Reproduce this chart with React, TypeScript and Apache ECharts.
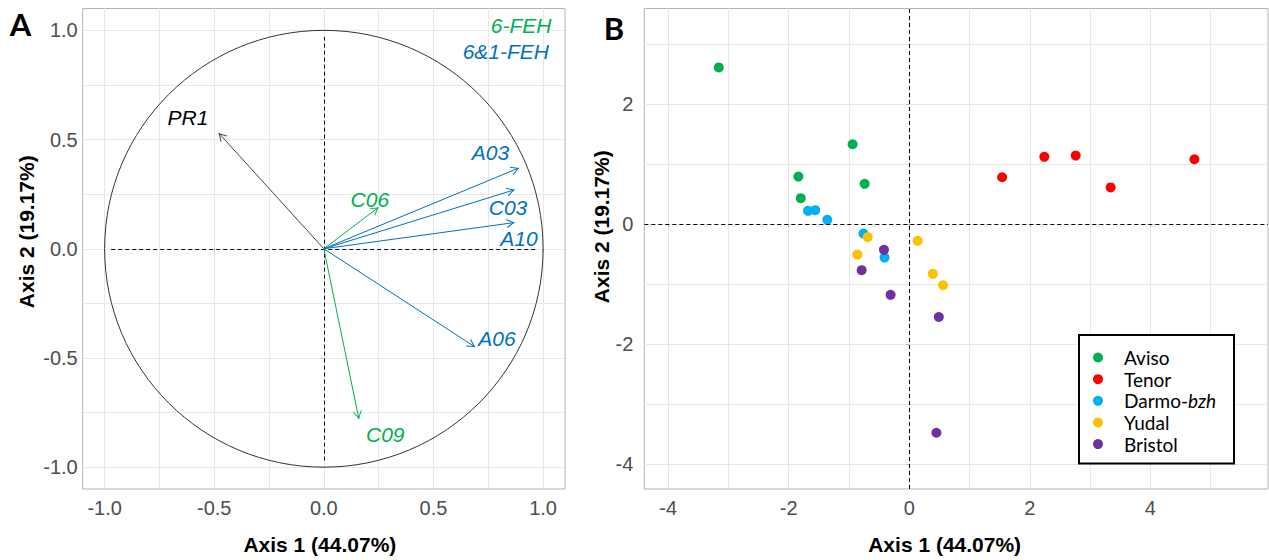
import React, { useEffect, useRef } from "react";
import * as echarts from "echarts";

// ---------- Panel A: variable correlation circle ----------
const blackArrowNames = ["PR1"];
const blackArrowX = [-0.48];
const blackArrowY = [0.53];
const blackLabelX = [-0.62];
const blackLabelY = [0.6];

const blueArrowNames = ["A03", "C03", "A10", "A06"];
const blueArrowX = [0.89, 0.87, 0.87, 0.69];
const blueArrowY = [0.37, 0.27, 0.12, -0.45];
const blueLabelX = [0.76, 0.84, 0.89, 0.79];
const blueLabelY = [0.44, 0.19, 0.045, -0.41];

const greenArrowNames = ["C06", "C09"];
const greenArrowX = [0.25, 0.16];
const greenArrowY = [0.19, -0.78];
const greenLabelX = [0.21, 0.28];
const greenLabelY = [0.225, -0.85];

const groupNames = ["6-FEH", "6&1-FEH"];
const groupLabelX = [0.9, 0.83];
const groupLabelY = [1.024, 0.905];

const circleRadius = 1;
const refSegmentEnd = 0.97;
const leftTicks = [-1, -0.5, 0, 0.5, 1];
const leftGridTicks = [-1, -0.75, -0.5, -0.25, 0, 0.25, 0.5, 0.75, 1];

// ---------- Panel B: individuals ----------
const varieties = ["Aviso", "Tenor", "Darmo-bzh", "Yudal", "Bristol"];
const avisoPts = [[-3.16, 2.61], [-0.94, 1.33], [-1.84, 0.79], [-0.74, 0.67], [-1.8, 0.43]];
const tenorPts = [[1.54, 0.78], [2.24, 1.12], [2.76, 1.14], [3.34, 0.61], [4.73, 1.08]];
const darmoPts = [[-1.68, 0.22], [-1.56, 0.23], [-1.36, 0.07], [-0.76, -0.16], [-0.41, -0.56]];
const yudalPts = [[-0.69, -0.22], [0.14, -0.28], [-0.86, -0.51], [0.39, -0.83], [0.56, -1.02]];
const bristolPts = [[-0.42, -0.43], [-0.79, -0.77], [-0.31, -1.18], [0.49, -1.55], [0.45, -3.48]];
const rightXTicks = [-4, -2, 0, 2, 4];
const rightXGridTicks = [-4, -3, -2, -1, 0, 1, 2, 3, 4, 5];
const rightYTicks = [-4, -2, 0, 2];
const rightYGridTicks = [-4, -3, -2, -1, 0, 1, 2, 3];

const GREEN = "#00B050";
const BLUE = "#0070C0";
const varietyColors = ["#00B050", "#FF0000", "#00B0F0", "#FFC000", "#7030A0"];

const TICK_FONT = "Liberation Sans";
const CHEVRON =
  "path://M0,0L0.01,0L0,0.01ZM20,20L19.99,20L20,19.99ZM10,10L14.6,18L13.45,18L10,12L6.55,18L5.4,18Z";

function arrowSeries(xs: number[], ys: number[], color: string) {
  return {
    type: "lines",
    coordinateSystem: "cartesian2d",
    xAxisIndex: 0,
    yAxisIndex: 0,
    polyline: false,
    silent: true,
    z: 4,
    symbol: ["none", CHEVRON],
    symbolSize: 20,
    lineStyle: { color, width: 1, opacity: 1, curveness: 0 },
    data: xs.map((x, i) => ({ coords: [[0, 0], [x, ys[i]]] })),
  };
}

function labelSeries(names: string[], xs: number[], ys: number[], color: string) {
  return {
    type: "scatter",
    xAxisIndex: 0,
    yAxisIndex: 0,
    symbolSize: 1,
    silent: true,
    z: 5,
    itemStyle: { color: "rgba(0,0,0,0)" },
    label: {
      show: true,
      position: "inside",
      formatter: "{b}",
      color,
      opacity: 1,
      textBorderWidth: 0,
      textShadowBlur: 0,
      fontSize: 21,
      fontStyle: "italic",
      fontFamily: TICK_FONT,
    },
    data: names.map((n, i) => ({ name: n, value: [xs[i], ys[i]] })),
  };
}

function valueAxis(opts: any) {
  const { gridIndex, min, max, ticks, gridTicks, decimals, margin, name, nameGap, namePad, isY } = opts;
  const main = {
    type: "value",
    gridIndex,
    min,
    max,
    axisLine: { show: false },
    axisTick: { show: true, length: 3, lineStyle: { color: "#b3b3b3", width: 1 }, customValues: ticks },
    axisLabel: {
      customValues: ticks,
      formatter: (v: number) => v.toFixed(decimals),
      color: "#4d4d4d",
      fontSize: 20,
      fontFamily: TICK_FONT,
      margin,
    },
    splitLine: { show: true, lineStyle: { color: "#dcdcdc", width: 1 } },
    name,
    nameLocation: "middle",
    nameGap,
    nameRotate: isY ? 90 : 0,
    nameTextStyle: {
      fontSize: 21,
      fontWeight: "bold",
      fontFamily: TICK_FONT,
      color: "#000",
      padding: namePad,
    },
  };
  const minor = {
    type: "value",
    gridIndex,
    min,
    max,
    position: isY ? "right" : "top",
    axisLine: { show: false },
    axisTick: { show: false, customValues: gridTicks },
    axisLabel: { show: false },
    splitLine: { show: true, lineStyle: { color: "#e8e8e8", width: 1 } },
  };
  return [main, minor];
}

export default function App() {
  const ref = useRef<HTMLDivElement>(null);
  useEffect(() => {
    if (!ref.current) return;
    const chart = echarts.init(ref.current, undefined, { renderer: "svg" });

    const [lx, lxm] = valueAxis({
      gridIndex: 0, min: -1.1, max: 1.1, ticks: leftTicks, gridTicks: leftGridTicks, decimals: 1,
      margin: 9, name: "Axis 1 (44.07%)", nameGap: 45, namePad: [0, 8, 0, 0], isY: false,
    });
    const [ly, lym] = valueAxis({
      gridIndex: 0, min: -1.1, max: 1.1, ticks: leftTicks, gridTicks: leftGridTicks, decimals: 1,
      margin: 5, name: "Axis 2 (19.17%)", nameGap: 46, namePad: [0, 0, 0, 34], isY: true,
    });
    const [rx, rxm] = valueAxis({
      gridIndex: 1, min: -4.395, max: 5.95, ticks: rightXTicks, gridTicks: rightXGridTicks, decimals: 0,
      margin: 9, name: "Axis 1 (44.07%)", nameGap: 45, namePad: [0, 23, 0, 0], isY: false,
    });
    const [ry, rym] = valueAxis({
      gridIndex: 1, min: -4.417, max: 3.592, ticks: rightYTicks, gridTicks: rightYGridTicks, decimals: 0,
      margin: 11, name: "Axis 2 (19.17%)", nameGap: 29, namePad: [0, 0, 0, 44], isY: true,
    });

    const pointSets = [avisoPts, tenorPts, darmoPts, yudalPts, bristolPts];

    const option: any = {
      animation: false,
      backgroundColor: "#ffffff",
      grid: [
        { left: 82.7, top: 8.5, width: 482.3, height: 480.5, show: true, borderColor: "#b3b3b3", borderWidth: 1, backgroundColor: "transparent" },
        { left: 644.3, top: 8.5, width: 623.7, height: 480.5, show: true, borderColor: "#b3b3b3", borderWidth: 1, backgroundColor: "transparent" },
      ],
      xAxis: [lx, rx, lxm, rxm],
      yAxis: [ly, ry, lym, rym],
      legend: {
        data: varieties,
        orient: "vertical",
        left: 1079,
        top: 335,
        itemWidth: 10,
        itemHeight: 10,
        itemGap: 2.65,
        icon: "circle",
        selectedMode: false,
        backgroundColor: "#ffffff",
        borderColor: "#000000",
        borderWidth: 2,
        borderRadius: 0,
        padding: [13, 18, 10, 14],
        formatter: (name: string) =>
          name === "Darmo-bzh" ? "{n|Darmo-}{i|bzh}" : "{n|" + name + "}",
        textStyle: {
          rich: {
            n: { fontSize: 19, fontFamily: "Lato", color: "#000", lineHeight: 19, padding: [0, 0, 0, 16] },
            i: { fontSize: 19, fontFamily: "Lato", fontStyle: "italic", color: "#000", lineHeight: 19 },
          },
        },
      },
      graphic: [
        { type: "text", x: 20.5, y: 24, style: { text: "A", font: "bold 31px Lato", fill: "#000", align: "center", verticalAlign: "middle" } },
        { type: "text", x: 614, y: 27.5, style: { text: "B", font: "bold 31px Lato", fill: "#000", align: "center", verticalAlign: "middle" } },
      ],
      series: [
        // circle
        {
          type: "custom",
          xAxisIndex: 0,
          yAxisIndex: 0,
          silent: true,
          z: 2,
          data: [[0, 0, circleRadius]],
          renderItem: (params: any, api: any) => {
            const c = api.coord([api.value(0), api.value(1)]);
            const s = api.size([api.value(2), api.value(2)]);
            return {
              type: "ellipse",
              shape: { cx: c[0], cy: c[1], rx: s[0], ry: s[1] },
              style: { fill: "none", stroke: "#333333", lineWidth: 1 },
            };
          },
        },
        // dashed reference lines (panel A)
        {
          type: "lines",
          coordinateSystem: "cartesian2d",
          xAxisIndex: 0,
          yAxisIndex: 0,
          silent: true,
          z: 3,
          lineStyle: { color: "#000", width: 1, type: [4, 3], opacity: 1 },
          data: [
            { coords: [[0, -refSegmentEnd], [0, refSegmentEnd]] },
            { coords: [[-refSegmentEnd, 0], [refSegmentEnd, 0]] },
          ],
        },
        arrowSeries(blackArrowX, blackArrowY, "#444444"),
        arrowSeries(blueArrowX, blueArrowY, BLUE),
        arrowSeries(greenArrowX, greenArrowY, GREEN),
        labelSeries(blackArrowNames, blackLabelX, blackLabelY, "#000000"),
        labelSeries(blueArrowNames, blueLabelX, blueLabelY, BLUE),
        labelSeries(greenArrowNames, greenLabelX, greenLabelY, GREEN),
        labelSeries([groupNames[0]], [groupLabelX[0]], [groupLabelY[0]], GREEN),
        labelSeries([groupNames[1]], [groupLabelX[1]], [groupLabelY[1]], BLUE),
        // panel B points
        ...varieties.map((v, i) => ({
          type: "scatter",
          name: v,
          xAxisIndex: 1,
          yAxisIndex: 1,
          symbol: "circle",
          symbolSize: 10,
          z: 3,
          itemStyle: { color: varietyColors[i], opacity: 1 },
          data: pointSets[i],
          ...(i === 0
            ? {
                markLine: {
                  silent: true,
                  symbol: "none",
                  label: { show: false },
                  lineStyle: { color: "#000", width: 1, type: [4, 3] },
                  data: [{ xAxis: 0 }, { yAxis: 0 }],
                },
              }
            : {}),
        })),
      ],
    };
    chart.setOption(option);
    return () => chart.dispose();
  }, []);
  return (
    <div
      ref={ref}
      style={{ position: "fixed", left: 0, top: 0, width: 1269, height: 560, background: "#fff" }}
    />
  );
}
